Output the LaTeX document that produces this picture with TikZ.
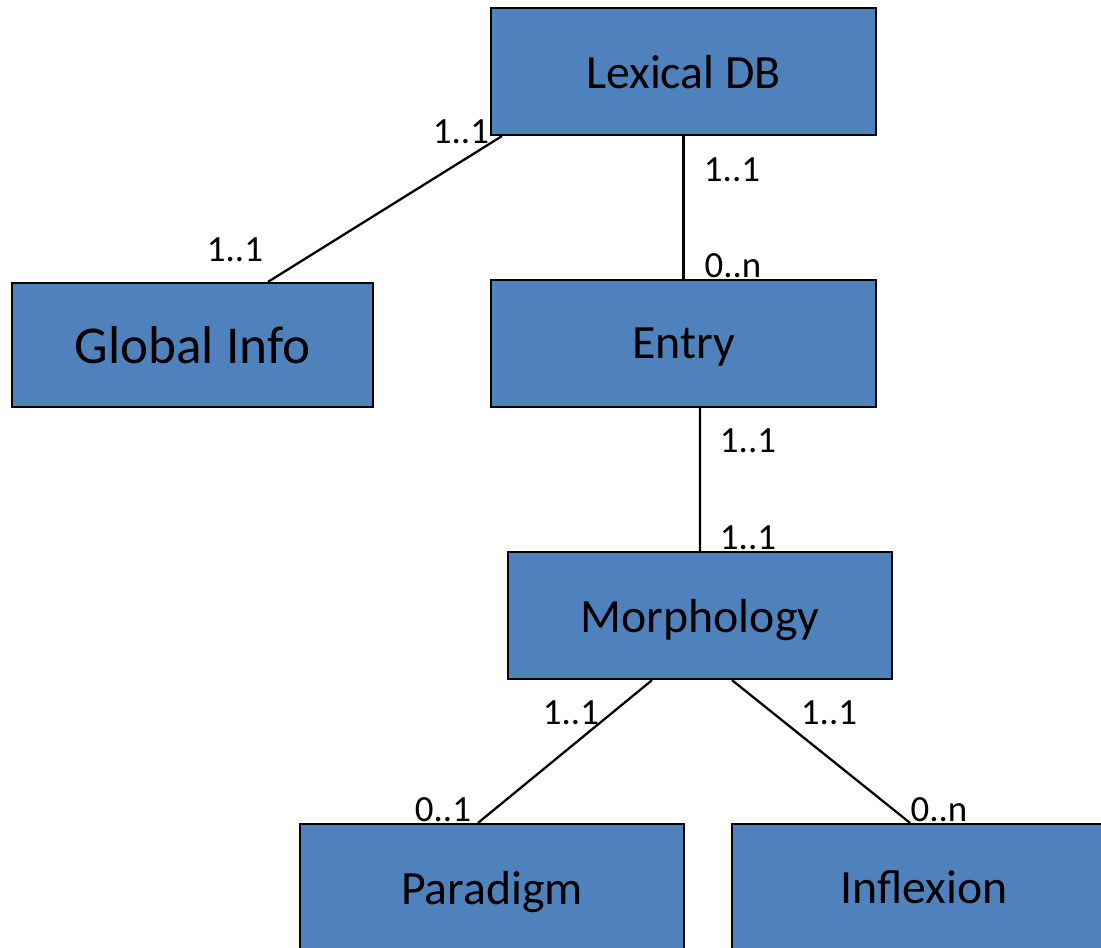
\documentclass[tikz,border=0pt]{standalone}
\usepackage{fontspec}
\setmainfont{Carlito}
\definecolor{boxblue}{HTML}{4F81BD}

\begin{document}
\begin{tikzpicture}[x=0.02cm,y=-0.02cm,
  entity/.style={draw=black,fill=boxblue,line width=1.3pt,minimum width=7.7cm,minimum height=2.54cm,text depth=0pt,font=\fontsize{27.2}{32}\selectfont},
  mult/.style={font=\fontsize{21}{25}\selectfont},
  link/.style={black,line width=1.3pt}]
  \tikzstyle{every node}+=[inner sep=0pt]
  \useasboundingbox (0,0) rectangle (1101,947);
  \clip (0,0) rectangle (1101,947);
  \node[entity] (lexdb) at (683.5,71.5) {Lexical DB};
  \node[entity,minimum width=7.22cm,minimum height=2.48cm,font=\fontsize{30.3}{36}\selectfont] (global) at (192.5,345) {Global Info};
  \node[entity] (entry) at (683.5,343.5) {Entry};
  \node[entity,minimum width=7.68cm] (morph) at (700,615.5) {Morphology};
  \node[entity,minimum width=7.68cm] (paradigm) at (492,887.5) {Paradigm};
  \node[entity,minimum width=7.68cm] (inflexion) at (924,887.5) {Inflexion};
  \draw[link] ([xshift=0.24cm]lexdb.south west) -- ([xshift=1.51cm]global.north);
  \draw[link] (lexdb.south) -- (entry.north);
  \draw[link] ([xshift=0.33cm]entry.south) -- (morph.north);
  \draw[link] ([xshift=-0.96cm]morph.south) -- ([xshift=-0.28cm]paradigm.north);
  \draw[link] ([xshift=0.64cm]morph.south) -- ([xshift=-0.28cm]inflexion.north);
  \node[mult] (m1) at (461,132) {1..1};
  \node[mult] (m2) at (235,250) {1..1};
  \node[mult] (m3) at (732,170) {1..1};
  \node[mult] (m4) at (733,266) {0..n};
  \node[mult] (m5) at (748,441) {1..1};
  \node[mult] (m6) at (748,538) {1..1};
  \node[mult] (m7) at (571,713) {1..1};
  \node[mult] (m8) at (443,810) {0..1};
  \node[mult] (m9) at (829,713) {1..1};
  \node[mult] (m10) at (939,810) {0..n};
\end{tikzpicture}
\end{document}
